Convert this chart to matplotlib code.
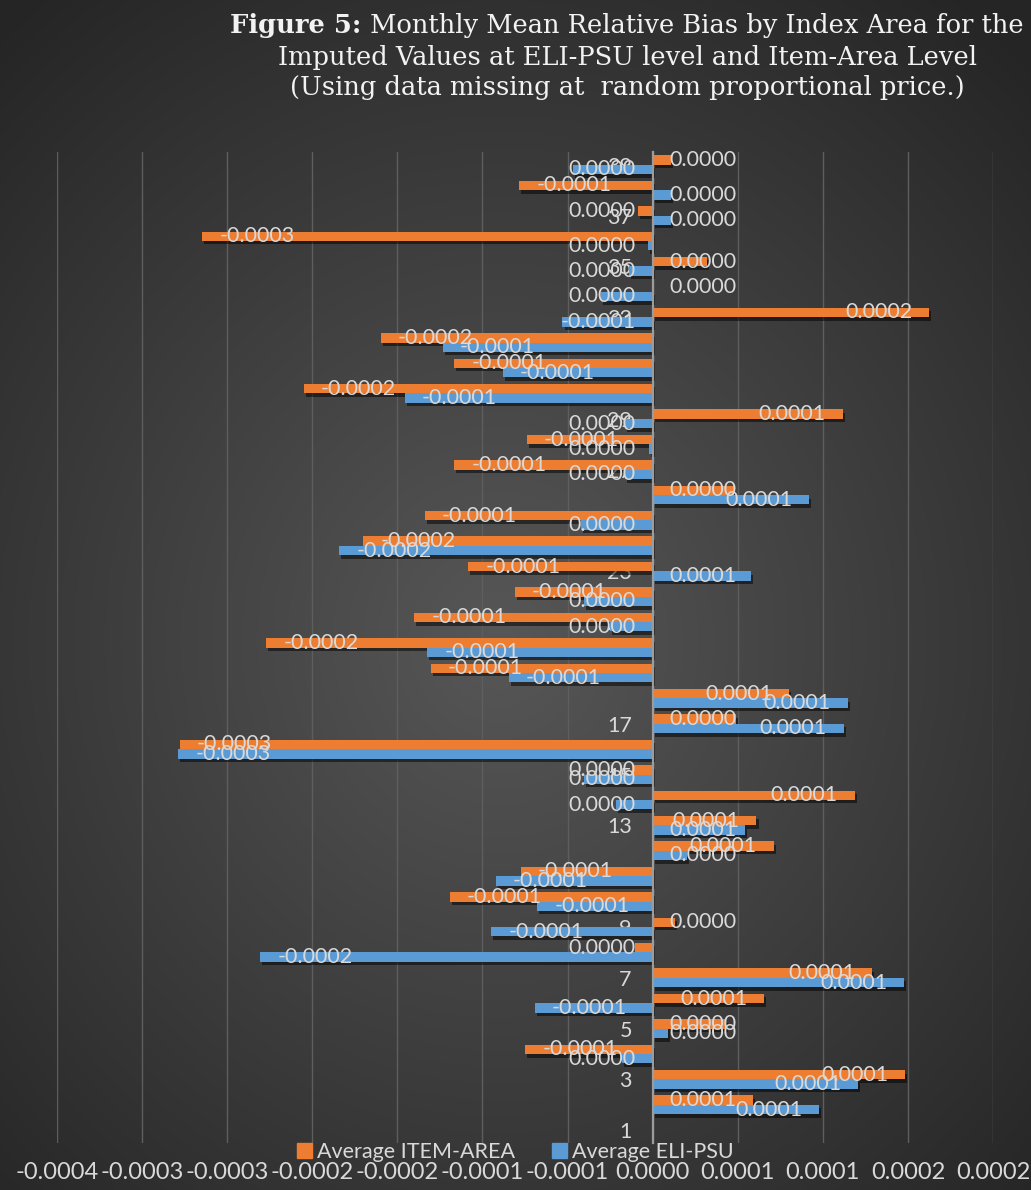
import numpy as np
import matplotlib
matplotlib.use("Agg")
import matplotlib.pyplot as plt
from matplotlib.patches import Patch
import matplotlib.patheffects as pe

# ---------------- data ----------------
categories = list(range(1, 40))
item_area = [np.nan, 5.89e-5, 1.484e-4, -7.48e-5, 4.3e-5, 6.56e-5, 1.29e-4, -1.02e-5, 1.3e-5, -1.191e-4,
             -7.74e-5, 7.13e-5, 6.1e-5, 1.188e-4, -1.19e-5, -2.777e-4, 4.9e-5, 8.03e-5, -1.303e-4, -2.271e-4,
             -1.401e-4, -8.09e-5, -1.083e-4, -1.70e-4, -1.338e-4, 4.78e-5, -1.166e-4, -7.39e-5, 1.118e-4, -2.048e-4,
             -1.166e-4, -1.596e-4, 1.624e-4, 4e-7, 3.2e-5, -2.647e-4, -8.6e-6, -7.83e-5, 1.06e-5]
eli_psu = [np.nan, 9.78e-5, 1.207e-4, -1.8e-5, 9e-6, -6.91e-5, 1.478e-4, -2.306e-4, -9.49e-5, -6.78e-5,
           -9.2e-5, 2.0e-5, 5.4e-5, -2.17e-5, -4.04e-5, -2.787e-4, 1.124e-4, 1.147e-4, -8.44e-5, -1.325e-4,
           -2.5e-5, -4.04e-5, 5.8e-5, -1.841e-4, -4.2e-5, 9.2e-5, -1.6e-5, -1.9e-6, -1.6e-5, -1.456e-4,
           -8.79e-5, -1.233e-4, -5.3e-5, -3.06e-5, -1.39e-5, -2.5e-6, 1.06e-5, 1.06e-5, -4.66e-5]
series_names = ["Average ITEM-AREA", "Average ELI-PSU"]
x_ticks = [-0.00035, -0.0003, -0.00025, -0.0002, -0.00015, -0.0001, -0.00005, 0.0, 0.00005, 0.0001, 0.00015, 0.0002]
x_tick_labels = ["-0.0004", "-0.0003", "-0.0003", "-0.0002", "-0.0002", "-0.0001", "-0.0001",
                 "0.0000", "0.0001", "0.0001", "0.0002", "0.0002"]
y_tick_values = list(range(1, 40, 2))
title_bold = "Figure 5:"
title_line1 = " Monthly Mean Relative Bias by Index Area for the"
title_line2 = "Imputed Values at ELI-PSU level and Item-Area Level"
title_line3 = "(Using data missing at  random proportional price.)"

# ---------------- style ----------------
W, H, DPI = 1031, 1190, 100
ORANGE = "#ED7D31"
BLUE = "#5B9BD5"
TXT = "#d9d9d9"
SANS = "Lato"
FS = 15.5
FS_X = 17

fig = plt.figure(figsize=(W / DPI, H / DPI), dpi=DPI)

# background radial gradient
bg = fig.add_axes([0, 0, 1, 1], zorder=-10)
yy, xx = np.mgrid[0:H, 0:W]
r = np.sqrt(((xx - 500) / 760.0) ** 2 + ((yy - 640) / 820.0) ** 2)
r = np.clip(r, 0, 1)
c_in = np.array([0x57, 0x57, 0x57]) / 255.0
c_out = np.array([0x25, 0x25, 0x25]) / 255.0
img = c_in[None, None, :] * (1 - r[..., None]) + c_out[None, None, :] * r[..., None]
bg.imshow(img, extent=[0, W, H, 0], aspect="auto")
bg.set_xlim(0, W)
bg.set_ylim(H, 0)
bg.axis("off")

# main axes
left_px, right_px, top_px, bot_px = 57, 993, 152, 1143
ax = fig.add_axes([left_px / W, 1 - bot_px / H, (right_px - left_px) / W, (bot_px - top_px) / H])
ax.set_facecolor("none")
ax.set_xlim(-0.00035, 0.0002)
ax.set_ylim(0.5, 39.5)

cats = np.array(categories, dtype=float)
bh = 0.37
shadow = [pe.SimplePatchShadow(offset=(1.5, -2.5), shadow_rgbFace="black", alpha=0.5), pe.Normal()]
b1 = ax.barh(cats + bh / 2, item_area, height=bh, color=ORANGE, zorder=2)
b2 = ax.barh(cats - bh / 2, eli_psu, height=bh, color=BLUE, zorder=2)
for b in list(b1) + list(b2):
    b.set_path_effects(shadow)

ax.set_xticks(x_ticks)
ax.set_xticklabels(x_tick_labels)
ax.set_yticks(y_tick_values)
ax.set_yticklabels([str(v) for v in y_tick_values])
ax.grid(axis="x", color="#5e5e5e", lw=1.0, zorder=0)
ax.set_axisbelow(True)
for s in ["top", "right", "bottom"]:
    ax.spines[s].set_visible(False)
ax.spines["left"].set_position(("data", 0))
ax.spines["left"].set_color("#9c9c9c")
ax.spines["left"].set_linewidth(1.6)
ax.spines["left"].set_zorder(2.6)
ax.tick_params(axis="both", length=0, colors=TXT)
ax.tick_params(axis="y", pad=15, labelsize=FS)
ax.tick_params(axis="x", pad=14, labelsize=FS_X)
for lab in ax.get_xticklabels() + ax.get_yticklabels():
    lab.set_fontfamily(SANS)

# data labels
fig.canvas.draw()
renderer = fig.canvas.get_renderer()
to_px = ax.transData
inv = ax.transData.inverted()
pad = 17
zero_px = to_px.transform((0, 0))[0]


def fmt(v):
    s = f"{v:.4f}"
    if s == "-0.0000":
        s = "0.0000"
    return s


for vals, offs in ((item_area, bh / 2), (eli_psu, -bh / 2)):
    for c, v in zip(categories, vals):
        if v is None or np.isnan(v):
            continue
        y = c + offs
        t = ax.text(0, y, fmt(v), color=TXT, fontsize=FS, family=SANS, va="center", zorder=5)
        w = t.get_window_extent(renderer).width
        end_px = to_px.transform((v, y))[0]
        if v >= 0:
            xr = max(end_px - pad, zero_px + pad + w)
            t.set_ha("right")
        else:
            xr = min(end_px + pad, zero_px - pad - w)
            t.set_ha("left")
        t.set_x(inv.transform((xr, 0))[0])

# legend
handles = [Patch(color=ORANGE), Patch(color=BLUE)]
leg = fig.legend(handles, series_names, loc="center", bbox_to_anchor=(0.5, 1 - 1152 / H), ncol=2,
                 frameon=False, prop={"family": SANS, "size": FS}, handlelength=0.7, handleheight=0.7,
                 handletextpad=0.25, columnspacing=1.7, borderaxespad=0, borderpad=0)
for t in leg.get_texts():
    t.set_color(TXT)

# title
TFS = 18.5
tcol = "#f2f2f2"
cx = 627
tb = fig.text(0, 0, title_bold, family="DejaVu Serif", weight="bold", size=TFS, color=tcol)
tr = fig.text(0, 0, title_line1, family="DejaVu Serif", size=TFS, color=tcol)
wb = tb.get_window_extent(renderer).width
wr = tr.get_window_extent(renderer).width
x0 = cx - (wb + wr) / 2
y1 = 1 - 26 / H
tb.set_position((x0 / W, y1))
tb.set_va("center")
tr.set_position(((x0 + wb) / W, y1))
tr.set_va("center")
fig.text(cx / W, 1 - 57 / H, title_line2, family="DejaVu Serif", size=TFS, color=tcol, ha="center", va="center")
fig.text(cx / W, 1 - 88 / H, title_line3, family="DejaVu Serif", size=TFS, color=tcol, ha="center", va="center")

fig.savefig("out.png", dpi=DPI)
